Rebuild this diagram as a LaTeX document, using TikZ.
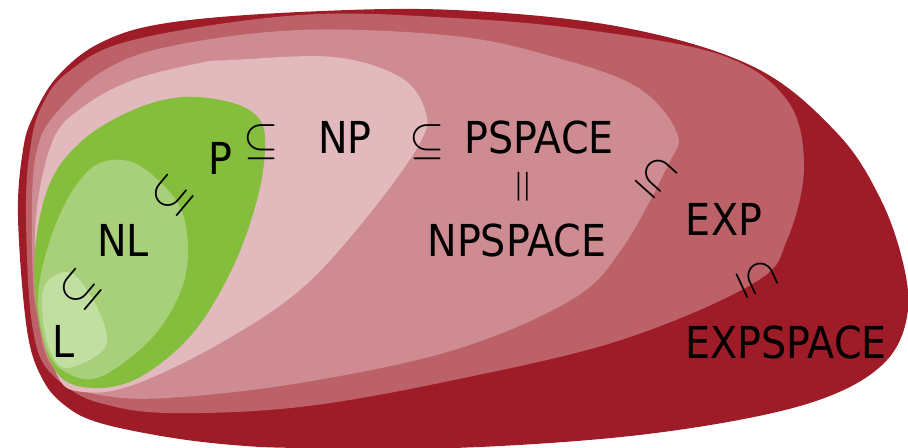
\RequirePackage{fix-cm}
\documentclass[tikz,border=0pt]{standalone}
\usepackage{fontspec}
\setmainfont{DejaVu Sans}[FakeStretch=0.9]
\usepackage{tikz}
\usetikzlibrary{positioning}
\definecolor{cxExpspace}{RGB}{158,28,39}
\definecolor{cxExp}{RGB}{189,97,104}
\definecolor{cxPspace}{RGB}{206,140,146}
\definecolor{cxNp}{RGB}{226,185,189}
\definecolor{cxP}{RGB}{132,190,60}
\definecolor{cxNl}{RGB}{168,208,122}
\definecolor{cxL}{RGB}{192,223,160}

\begin{document}
\begin{tikzpicture}[
    x=0.75pt, y=-0.75pt,
    region/.style={draw=none, smooth cycle, tension=0.6},
    cls/.style={inner sep=0pt, font=\fontsize{33}{40}\selectfont},
    rel/.style={inner sep=0pt, font=\fontsize{34}{40}\selectfont}
]
    \useasboundingbox (0,0) rectangle (908,448);

    % Outer classes
    \fill[cxExpspace] plot[region] coordinates {(18,217) (23,150) (33,117) (57,77) (100,43) (167,23) (300,12) (454,10) (621,27) (754,67) (837,133) (881,200) (904,267) (907,317) (887,360) (837,393) (754,417) (621,437) (454,448) (300,448) (233,445) (167,437) (100,423) (67,407) (43,380) (27,330)};
    \fill[cxExp] plot[region] coordinates {(26,200) (30,150) (40,110) (67,73) (133,40) (300,15) (454,18) (587,30) (721,55) (787,100) (804,167) (787,240) (754,283) (621,340) (454,380) (300,407) (167,413) (100,403) (67,387) (43,363) (33,330) (28,280)};
    \fill[cxPspace] plot[region] coordinates {(32,200) (37,150) (53,117) (100,73) (167,47) (300,30) (454,36) (554,57) (637,87) (677,133) (667,167) (621,250) (571,300) (454,350) (300,383) (167,398) (100,395) (67,380) (47,357) (37,313) (33,280)};
    \fill[cxNp] plot[region] coordinates {(233,60) (333,57) (400,77) (425,110) (420,143) (367,217) (300,290) (217,345) (133,385) (83,392) (57,375) (39,300) (36,217) (53,140) (83,107) (133,80) (200,63)};

    % Inner classes
    \fill[cxP] plot[region] coordinates {(183,97) (233,103) (260,120) (265,150) (257,200) (233,267) (193,333) (140,377) (93,388) (57,373) (38,317) (35,250) (50,183) (83,140) (133,110)};
    \fill[cxNl] plot[region] coordinates {(123,160) (150,173) (180,207) (188,250) (180,293) (150,340) (100,377) (67,373) (47,350) (38,300) (47,250) (67,200) (93,167)};
    \fill[cxL] plot[region] coordinates {(60,273) (77,277) (97,307) (107,337) (100,353) (73,367) (57,363) (45,333) (43,290)};

    % Labels
    \node[cls] (l) at (64,341) {L};
    \node[cls] (nl) at (123,240) {NL};
    \node[cls] (p) at (220,158) {P};
    \node[cls] (np) at (345,137) {NP};
    \node[cls] (pspace) at (539,137) {PSPACE};
    \node[cls] (npspace) at (517,240) {NPSPACE};
    \node[cls] (exp) at (724,219) {EXP};
    \node[cls] (expspace) at (786,342) {EXPSPACE};

    % Relations
    \node[rel, rotate=50] (l_nl) at (80,290) {$\subseteq$};
    \node[rel, rotate=50] (nl_p) at (172,196) {$\subseteq$};
    \node[rel] (p_np) at (261,142) {$\subseteq$};
    \node[rel] (np_ps) at (427,142) {$\subseteq$};
    \node[rel, rotate=90, font=\fontsize{35}{40}\selectfont] (ps_nps) at (526,187) {$=$};
    \node[rel, rotate=-42] (ps_exp) at (656,177) {$\subseteq$};
    \node[rel, rotate=-65] (exp_es) at (757,279) {$\subseteq$};
\end{tikzpicture}
\end{document}
